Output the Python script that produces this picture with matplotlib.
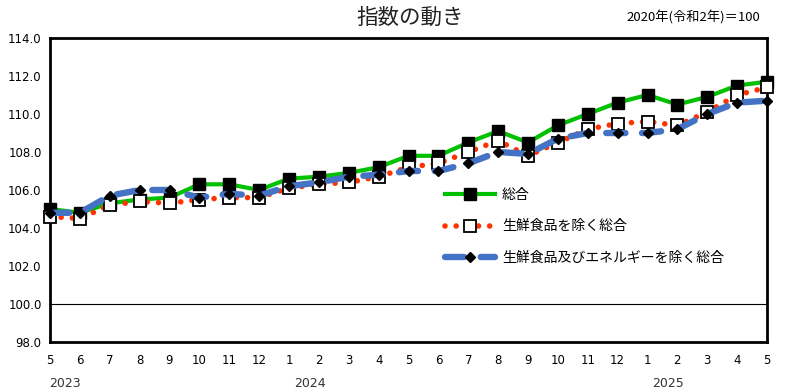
import matplotlib
matplotlib.use("Agg")
import matplotlib.pyplot as plt

plt.rcParams["font.family"] = ["Noto Sans CJK JP", "DejaVu Sans"]

# 2023年5月〜2025年5月
months = ["5", "6", "7", "8", "9", "10", "11", "12",
          "1", "2", "3", "4", "5", "6", "7", "8", "9", "10", "11", "12",
          "1", "2", "3", "4", "5"]
years = ["2023", "2024", "2025"]
year_pos = [0.5, 8.7, 20.7]

sogo = [105.0, 104.8, 105.3, 105.5, 105.6, 106.3, 106.3, 106.0,
        106.6, 106.7, 106.9, 107.2, 107.8, 107.8, 108.5, 109.1, 108.5, 109.4, 110.0, 110.6,
        111.0, 110.5, 110.9, 111.5, 111.7]
core = [104.6, 104.5, 105.2, 105.4, 105.3, 105.5, 105.6, 105.6,
        106.1, 106.3, 106.4, 106.7, 107.2, 107.4, 108.0, 108.6, 107.8, 108.5, 109.2, 109.5,
        109.6, 109.4, 110.1, 111.0, 111.4]
corecore = [104.8, 104.8, 105.7, 106.0, 106.0, 105.6, 105.8, 105.7,
            106.2, 106.4, 106.7, 106.8, 107.0, 107.0, 107.4, 108.0, 107.9, 108.7, 109.0, 109.0,
            109.0, 109.2, 110.0, 110.6, 110.7]

labels = ["総合", "生鮮食品を除く総合", "生鮮食品及びエネルギーを除く総合"]

x = list(range(len(months)))

fig = plt.figure(figsize=(7.88, 3.91), dpi=100)
ax = fig.add_axes([50 / 788, 1 - 342 / 391, 717 / 788, 304 / 391])

ax.axhline(100, color="black", linewidth=0.8, zorder=1)

ax.plot(x, sogo, color="#00c000", linewidth=3, marker="s", markersize=8.3,
        markerfacecolor="black", markeredgecolor="black", label=labels[0],
        clip_on=False, zorder=3)
ax.plot(x, core, color="#ff3300", linewidth=4, linestyle=(0, (0.01, 2.0)),
        dash_capstyle="round", marker="s", markersize=8,
        markerfacecolor="white", markeredgecolor="black", markeredgewidth=1.3,
        label=labels[1], clip_on=False, zorder=4)
ax.plot(x, corecore, color="#4472c4", linewidth=4.6, linestyle=(0, (3.0, 2.6)),
        dash_capstyle="round", marker="D", markersize=5,
        markerfacecolor="black", markeredgecolor="black",
        label=labels[2], clip_on=False, zorder=5)

ax.set_xlim(0, len(months) - 1)
ax.set_ylim(98, 114)
ax.set_yticks(range(98, 115, 2))
ax.set_yticklabels([f"{v:.1f}" for v in range(98, 115, 2)], fontsize=8.5,
                   family="DejaVu Sans")
ax.set_xticks(x)
ax.set_xticklabels(months, fontsize=8.5, family="DejaVu Sans")
ax.tick_params(axis="both", length=0)
ax.tick_params(axis="x", pad=9)
ax.tick_params(axis="y", pad=6)
for s in ax.spines.values():
    s.set_linewidth(2)

for yr, p in zip(years, year_pos):
    ax.text(p, -0.135, yr, transform=ax.get_xaxis_transform(), ha="center",
            va="center", fontsize=9, color="#333333", family="DejaVu Sans")

fig.text(410 / 788, 1 - 18 / 391, "指数の動き", ha="center", va="center",
         fontsize=15.5, color="#222222")
fig.text(760 / 788, 1 - 17 / 391, "2020年(令和2年)＝100", ha="right", va="center",
         fontsize=9.5)

ax.legend(loc="upper left", bbox_to_anchor=(445 / 788, 1 - 188 / 391),
          bbox_transform=fig.transFigure, frameon=False, fontsize=10,
          handlelength=3.6, handletextpad=0.5, labelspacing=1.25,
          borderpad=0, borderaxespad=0, numpoints=1)

fig.savefig("out.png", dpi=100)
